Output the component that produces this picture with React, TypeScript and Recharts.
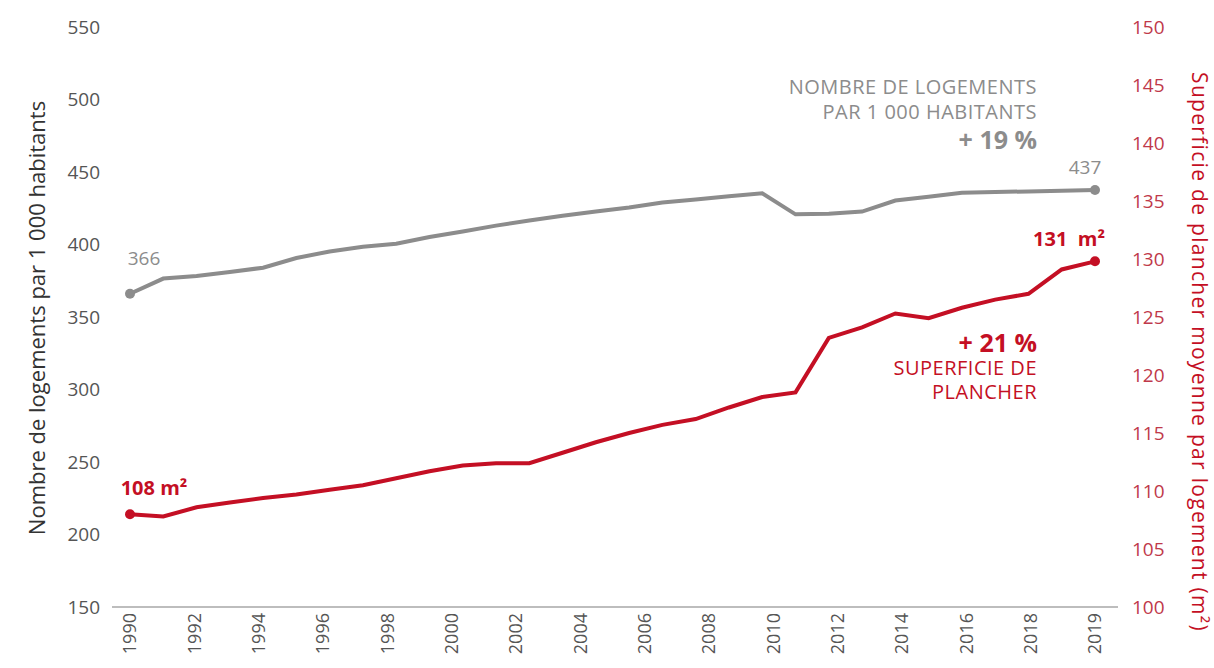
import React from 'react'
import { LineChart, Line, XAxis, YAxis, LabelList } from 'recharts'

const years = [
  1990, 1991, 1992, 1993, 1994, 1995, 1996, 1997, 1998, 1999,
  2000, 2001, 2002, 2003, 2004, 2005, 2006, 2007, 2008, 2009,
  2010, 2011, 2012, 2013, 2014, 2015, 2016, 2017, 2018, 2019,
]

// logements pour 1 000 habitants (axe gauche)
const logements = [
  366, 376.5, 378.3, 381, 384, 390.7, 395.2, 398.4, 400.5, 405.2,
  409, 413, 416.6, 419.8, 422.8, 425.5, 428.9, 431, 433.2, 435.3,
  420.8, 421.2, 422.7, 430.3, 433, 435.7, 436.2, 436.6, 437, 437.6,
]

// superficie moyenne par logement en m2 (axe droit)
const superficie = [
  108, 107.8, 108.6, 109, 109.4, 109.7, 110.1, 110.5, 111.1, 111.7,
  112.2, 112.4, 112.4, 113.3, 114.2, 115, 115.7, 116.2, 117.2, 118.1,
  118.5, 123.2, 124.1, 125.3, 124.9, 125.8, 126.5, 127, 129.1, 129.8,
]

// the printed year labels are evenly spaced, not at their true year
const xLabels = [
  '1990', '1992', '1994', '1996', '1998', '2000', '2002', '2004',
  '2006', '2008', '2010', '2012', '2014', '2016', '2018', '2019',
]
const leftTicks = [150, 200, 250, 300, 350, 400, 450, 500, 550]
const rightTicks = [100, 105, 110, 115, 120, 125, 130, 135, 140, 145, 150]

const grayEnds = ['366', '437']
const redEnds = ['108 m²', '131  m²']

const data = years.map((y, i) => ({ year: y, logements: logements[i], superficie: superficie[i] }))
const labelRows = xLabels.map((label, i) => ({ slot: i, label }))

const GRAY = '#8c8c8c'
const RED = '#c40f24'
const FONT = '"Open Sans", sans-serif'
const PAD = { left: 18, right: 23 }

const endDot = (color: string) => (p: any) => {
  if (p.index === 0 || p.index === data.length - 1) {
    return <circle key={p.index} cx={p.cx} cy={p.cy} r={5} fill={color} stroke="none" />
  }
  return <g key={p.index} />
}

const YearTick = (p: any) => (
  <text
    x={p.x}
    y={p.y}
    transform={`rotate(-90 ${p.x} ${p.y})`}
    textAnchor="end"
    dy="0.35em"
    fontSize={18}
    fontFamily={FONT}
    fill="#555"
  >
    {xLabels[p.payload.value]}
  </text>
)

export default function App() {
  const last = data.length - 1
  return (
    <div style={{ position: 'absolute', left: 0, top: 0, width: 1214, height: 668, background: '#fff', fontFamily: FONT }}>
      <LineChart width={1214} height={668} data={data} margin={{ top: 27, right: 46, left: 50, bottom: 11 }}>
        <XAxis xAxisId="data" dataKey="year" type="number" domain={[1990, 2019]} hide height={0} padding={PAD} />
        <XAxis
          xAxisId="labels"
          dataKey="slot"
          type="number"
          domain={[0, 15]}
          ticks={labelRows.map(r => r.slot)}
          interval={0}
          padding={PAD}
          height={50}
          axisLine={{ stroke: '#bdbdbd', strokeWidth: 2 }}
          tickLine={false}
          tickMargin={0}
          tick={<YearTick />}
        />
        <YAxis
          yAxisId="left"
          domain={[150, 550]}
          ticks={leftTicks}
          width={62}
          axisLine={false}
          tickLine={false}
          tickMargin={6}
          tick={{ fontSize: 19, fill: '#555', fontFamily: FONT }}
        />
        <YAxis
          yAxisId="right"
          orientation="right"
          domain={[100, 150]}
          ticks={rightTicks}
          width={50}
          axisLine={false}
          tickLine={false}
          tickMargin={8}
          tick={{ fontSize: 19, fill: '#c0394a', fontFamily: FONT }}
        />
        {/* carries the label axis domain, draws nothing */}
        <Line
          xAxisId="labels"
          yAxisId="left"
          data={labelRows}
          dataKey="none"
          stroke="none"
          dot={false}
          activeDot={false}
          isAnimationActive={false}
        />
        <Line
          xAxisId="data"
          yAxisId="left"
          dataKey="logements"
          type="linear"
          stroke={GRAY}
          strokeWidth={4}
          dot={endDot(GRAY)}
          activeDot={false}
          isAnimationActive={false}
        >
          <LabelList
            dataKey="logements"
            content={(p: any) => {
              if (p.index === 0) return <text x={p.x + 14} y={p.y - 29} textAnchor="middle" fontSize={19} fontFamily={FONT} fill={GRAY}>{grayEnds[0]}</text>
              if (p.index === last) return <text x={p.x - 10} y={p.y - 16} textAnchor="middle" fontSize={19} fontFamily={FONT} fill={GRAY}>{grayEnds[1]}</text>
              return null
            }}
          />
        </Line>
        <Line
          xAxisId="data"
          yAxisId="right"
          dataKey="superficie"
          type="linear"
          stroke={RED}
          strokeWidth={4}
          dot={endDot(RED)}
          activeDot={false}
          isAnimationActive={false}
        >
          <LabelList
            dataKey="superficie"
            content={(p: any) => {
              if (p.index === 0) return <text x={p.x + 24} y={p.y - 19} textAnchor="middle" fontSize={20} fontWeight={700} fontFamily={FONT} fill={RED}>{redEnds[0]}</text>
              if (p.index === last) return <text x={p.x + 10} y={p.y - 15} textAnchor="end" fontSize={20} fontWeight={700} fontFamily={FONT} fill={RED} style={{ whiteSpace: 'pre' }}>{redEnds[1]}</text>
              return null
            }}
          />
        </Line>

        <text x={39} y={318} transform="rotate(-90 39 318)" textAnchor="middle" dominantBaseline="middle" fontSize={22} fontFamily={FONT} fill="#333">
          Nombre de logements par 1 000 habitants
        </text>
        <text x={1198} y={352} transform="rotate(90 1198 352)" textAnchor="middle" dominantBaseline="middle" fontSize={21} letterSpacing={1.3} fontFamily={FONT} fill={RED}>
          Superficie de plancher moyenne par logement (m²)
        </text>

        <text x={1037} y={94} textAnchor="end" fontSize={20} letterSpacing={0.5} fontFamily={FONT} fill={GRAY}>NOMBRE DE LOGEMENTS</text>
        <text x={1037} y={119} textAnchor="end" fontSize={20} letterSpacing={0.5} fontFamily={FONT} fill={GRAY}>PAR 1 000 HABITANTS</text>
        <text x={1037} y={149} textAnchor="end" fontSize={25} fontWeight={700} fontFamily={FONT} fill={GRAY}>+ 19 %</text>

        <text x={1037} y={352} textAnchor="end" fontSize={25} fontWeight={700} fontFamily={FONT} fill={RED}>+ 21 %</text>
        <text x={1037} y={375} textAnchor="end" fontSize={20} letterSpacing={0.5} fontFamily={FONT} fill={RED}>SUPERFICIE DE</text>
        <text x={1037} y={399} textAnchor="end" fontSize={20} letterSpacing={0.5} fontFamily={FONT} fill={RED}>PLANCHER</text>
      </LineChart>
    </div>
  )
}
